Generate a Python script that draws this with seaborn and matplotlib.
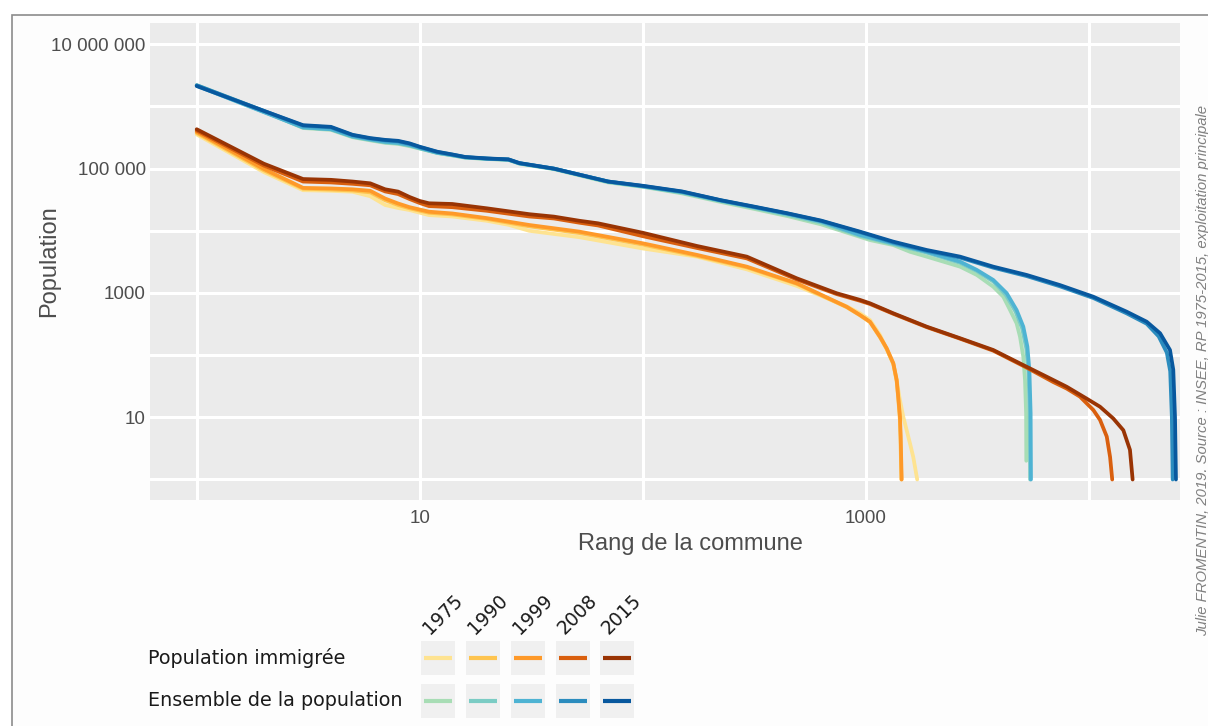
import matplotlib
matplotlib.use("Agg")
import matplotlib.pyplot as plt
import matplotlib.ticker as mticker
from matplotlib.patches import Rectangle
from matplotlib.lines import Line2D
import seaborn as sns
import pandas as pd

# Années et couleurs
annees = [1975, 1990, 1999, 2008, 2015]
couleurs_imm = ['#fee391', '#fec44f', '#fe9929', '#d95f0e', '#993404']
couleurs_ens = ['#a8ddb5', '#7bccc4', '#4eb3d3', '#2b8cbe', '#08589e']

# Ensemble de la population : (rang, population)
ens_1975 = [(1, 2.2e6), (2, 8.4e5), (3, 4.5e5), (4, 4.2e5), (5, 3.2e5), (6, 2.85e5), (7, 2.6e5),
            (8, 2.5e5), (9, 2.3e5), (10, 2.1e5), (12, 1.78e5), (14, 1.63e5), (16, 1.5e5), (20, 1.43e5),
            (25, 1.38e5), (28, 1.2e5), (40, 9.8e4), (56, 7.3e4), (70, 6.0e4), (100, 5.1e4), (150, 4.0e4),
            (225, 2.9e4), (316, 2.25e4), (447, 1.72e4), (631, 1.27e4), (942, 8.0e3), (1045, 7.1e3),
            (1330, 5.9e3), (1580, 4.6e3), (1878, 3.84e3), (2650, 2.65e3), (3150, 1.95e3), (3733, 1.26e3),
            (4140, 871), (4440, 532), (4750, 325), (4920, 198), (5090, 94), (5180, 40), (5240, 11.5),
            (5250, 2)]
ens_1990 = [(1, 2.17e6), (2, 8.2e5), (3, 4.6e5), (4, 4.3e5), (5, 3.25e5), (6, 2.9e5), (7, 2.65e5),
            (8, 2.55e5), (9, 2.35e5), (10, 2.12e5), (12, 1.79e5), (14, 1.64e5), (16, 1.51e5), (20, 1.44e5),
            (25, 1.39e5), (28, 1.21e5), (40, 9.9e4), (56, 7.4e4), (70, 6.1e4), (100, 5.15e4), (150, 4.1e4),
            (225, 3.0e4), (316, 2.35e4), (447, 1.8e4), (631, 1.36e4), (942, 8.3e3), (1330, 6.1e3),
            (1878, 4.45e3), (2650, 3.05e3), (3150, 2.25e3), (3733, 1.53e3), (4250, 930), (4700, 500),
            (5030, 270), (5250, 128), (5370, 54), (5440, 11), (5460, 1)]
ens_1999 = [(1, 2.15e6), (2, 8.1e5), (3, 4.6e5), (4, 4.3e5), (5, 3.3e5), (6, 2.95e5), (7, 2.7e5),
            (8, 2.6e5), (9, 2.4e5), (10, 2.15e5), (12, 1.8e5), (14, 1.65e5), (16, 1.52e5), (20, 1.45e5),
            (25, 1.4e5), (28, 1.22e5), (40, 1.0e5), (56, 7.5e4), (70, 6.2e4), (100, 5.2e4), (150, 4.2e4),
            (225, 3.05e4), (316, 2.4e4), (447, 1.87e4), (631, 1.42e4), (942, 8.6e3), (1330, 6.3e3),
            (1878, 4.6e3), (2650, 3.19e3), (3150, 2.35e3), (3733, 1.62e3), (4290, 990), (4750, 532),
            (5090, 287), (5310, 137), (5420, 58), (5490, 11.7), (5510, 1)]
ens_2008 = [(1, 2.2e6), (2, 8.5e5), (3, 4.9e5), (4, 4.6e5), (5, 3.45e5), (6, 3.05e5), (7, 2.85e5),
            (8, 2.75e5), (9, 2.5e5), (10, 2.22e5), (12, 1.85e5), (14, 1.68e5), (16, 1.53e5), (20, 1.45e5),
            (25, 1.4e5), (28, 1.22e5), (40, 1.0e5), (56, 7.5e4), (70, 6.2e4), (100, 5.25e4), (150, 4.25e4),
            (225, 3.08e4), (316, 2.42e4), (447, 1.89e4), (631, 1.44e4), (942, 9.5e3), (1330, 6.5e3),
            (1878, 4.75e3), (2650, 3.7e3), (3733, 2.55e3), (5270, 1.87e3), (7430, 1.28e3), (10490, 830),
            (14800, 470), (18200, 320), (20600, 200), (22400, 110), (23200, 55), (23600, 10), (23800, 1)]
ens_2015 = [(1, 2.13e6), (2, 8.5e5), (3, 5.0e5), (4, 4.7e5), (5, 3.5e5), (6, 3.1e5), (7, 2.9e5),
            (8, 2.8e5), (9, 2.55e5), (10, 2.25e5), (12, 1.87e5), (14, 1.69e5), (16, 1.54e5), (20, 1.46e5),
            (25, 1.41e5), (28, 1.23e5), (40, 1.0e5), (56, 7.5e4), (70, 6.2e4), (100, 5.3e4), (150, 4.3e4),
            (225, 3.1e4), (316, 2.45e4), (447, 1.91e4), (631, 1.46e4), (942, 9.7e3), (1330, 6.69e3),
            (1878, 4.91e3), (2650, 3.84e3), (3733, 2.65e3), (5270, 1.95e3), (7430, 1.34e3), (10490, 870),
            (14800, 500), (18200, 345), (20900, 225), (23150, 121), (23950, 58), (24380, 10), (24620, 1)]

# Population immigrée : (rang, population)
imm_1975 = [(1, 3.55e5), (2, 8.8e4), (3, 4.5e4), (4, 4.4e4), (5, 4.25e4), (6, 3.6e4), (7, 2.6e4),
            (8, 2.33e4), (9, 2.16e4), (11, 1.79e4), (14, 1.7e4), (20, 1.45e4), (25, 1.25e4), (31, 1.0e4),
            (52, 7.9e3), (100, 5.2e3), (175, 3.84e3), (293, 2.4e3), (491, 1.3e3), (822, 610), (942, 471),
            (1045, 367), (1159, 211), (1242, 125), (1330, 74), (1377, 40), (1420, 20), (1474, 10.2),
            (1580, 3.8), (1634, 2.3), (1702, 1)]
imm_1990 = [(1, 3.75e5), (2, 9.4e4), (3, 4.75e4), (4, 4.6e4), (5, 4.45e4), (6, 4.15e4), (7, 3.1e4),
            (8, 2.6e4), (9, 2.3e4), (11, 1.95e4), (14, 1.83e4), (20, 1.55e4), (31, 1.18e4), (52, 9.2e3),
            (100, 6.0e3), (175, 3.95e3), (293, 2.58e3), (491, 1.4e3), (822, 590), (942, 438), (1045, 340),
            (1159, 194), (1242, 126), (1330, 72), (1377, 38), (1400, 20), (1422, 9.5), (1432, 4.6),
            (1445, 1)]
imm_1999 = [(1, 3.9e5), (2, 9.9e4), (3, 4.9e4), (4, 4.8e4), (5, 4.65e4), (6, 4.4e4), (7, 3.3e4),
            (8, 2.75e4), (9, 2.4e4), (11, 2.03e4), (14, 1.9e4), (20, 1.6e4), (31, 1.24e4), (52, 9.7e3),
            (100, 6.3e3), (175, 4.1e3), (293, 2.65e3), (491, 1.43e3), (822, 600), (942, 443), (1045, 345),
            (1159, 198), (1242, 129), (1330, 74), (1377, 40), (1400, 21), (1425, 10.2), (1435, 4.9),
            (1450, 1)]
imm_2008 = [(1, 4.1e5), (2, 1.12e5), (3, 6.2e4), (4, 6.0e4), (5, 5.7e4), (6, 5.4e4), (7, 4.3e4),
            (8, 3.9e4), (9, 3.25e4), (10, 2.8e4), (11, 2.5e4), (14, 2.4e4), (20, 2.1e4), (31, 1.7e4),
            (40, 1.58e4), (52, 1.35e4), (63, 1.22e4), (100, 8.2e3), (175, 5.3e3), (293, 3.6e3),
            (491, 1.65e3), (741, 960), (942, 750), (1045, 665), (1330, 462), (1878, 282), (2650, 184),
            (3733, 118), (5270, 63), (6930, 37), (7970, 29), (9140, 21.5), (10490, 13.1), (11240, 9.1),
            (12050, 4.9), (12470, 2.3), (12750, 1)]
imm_2015 = [(1, 4.3e5), (2, 1.2e5), (3, 6.8e4), (4, 6.6e4), (5, 6.2e4), (6, 5.8e4), (7, 4.65e4),
            (8, 4.27e4), (9, 3.5e4), (10, 3.02e4), (11, 2.77e4), (14, 2.7e4), (20, 2.3e4), (31, 1.85e4),
            (40, 1.69e4), (52, 1.45e4), (63, 1.32e4), (100, 9.3e3), (175, 5.7e3), (293, 3.84e3),
            (491, 1.72e3), (741, 990), (942, 774), (1045, 682), (1330, 471), (1878, 287), (2650, 187),
            (3733, 121), (5270, 65), (6480, 45), (7970, 31), (9790, 20), (11240, 14.8), (12880, 9.6),
            (14300, 6.2), (15310, 3.0), (15740, 1)]

# Graduations
x_ticks = [10, 1000]
x_labels = ['10', '1000']
x_minor = [1, 100, 10000]
y_ticks = [10, 1e3, 1e5, 1e7]
y_labels = ['10', '1000', '100 000', '10 000 000']
y_minor = [1, 100, 1e4, 1e6]

lignes = [('Ensemble de la population', [ens_1975, ens_1990, ens_1999, ens_2008, ens_2015], couleurs_ens),
          ('Population immigrée', [imm_1975, imm_1990, imm_1999, imm_2008, imm_2015], couleurs_imm)]

rows = []
palette = {}
ordre = []
for nom, series, couleurs in lignes:
    for an, serie, c in zip(annees, series, couleurs):
        cle = f'{nom} {an}'
        palette[cle] = c
        ordre.append(cle)
        for r, p in serie:
            rows.append({'serie': cle, 'rang': r, 'population': p})
df = pd.DataFrame(rows)

sns.set_theme(style='darkgrid')
plt.rcParams['font.family'] = ['Liberation Sans', 'DejaVu Sans']

W, H = 1208, 726
fig = plt.figure(figsize=(W / 100, H / 100), dpi=100)
fig.patch.set_facecolor('white')

# cadre gris autour de la figure
fig.patches.append(Rectangle((12 / W, -0.1), 1.1, 1.1 - 15 / H, transform=fig.transFigure,
                             facecolor='#fdfdfd', edgecolor='#8c8c8c', linewidth=1.2, zorder=-1))

ax = fig.add_axes([150 / W, 1 - 500 / H, 1030 / W, 477 / H])
ax.set_facecolor('#ebebeb')

sns.lineplot(data=df, x='rang', y='population', hue='serie', hue_order=ordre, palette=palette,
             estimator=None, legend=False, linewidth=2.7, ax=ax)

ax.set_xscale('log')
ax.set_yscale('log')
ax.set_xlim(0.6174, 25670)
ax.set_ylim(0.468, 2.2e7)

ax.set_xticks(x_ticks, x_labels)
ax.set_yticks(y_ticks, y_labels)
ax.xaxis.set_minor_locator(mticker.FixedLocator(x_minor))
ax.yaxis.set_minor_locator(mticker.FixedLocator(y_minor))
ax.xaxis.set_minor_formatter(mticker.NullFormatter())
ax.yaxis.set_minor_formatter(mticker.NullFormatter())

ax.grid(True, which='both', color='white', linewidth=2.2)
for s in ax.spines.values():
    s.set_visible(False)

ax.tick_params(axis='x', which='major', length=3.5, width=1, color='#333333', pad=4,
               labelsize=13.5, labelcolor='#4d4d4d')
ax.tick_params(axis='y', which='major', length=0, pad=3, labelsize=13.5, labelcolor='#4d4d4d')
ax.tick_params(which='minor', length=0)

ax.set_xlabel('Rang de la commune', fontsize=17, color='#4d4d4d')
ax.set_ylabel('Population', fontsize=17, color='#4d4d4d')
ax.xaxis.set_label_coords(0.525, (500 - 550) / 477)
ax.xaxis.label.set_verticalalignment('baseline')
ax.yaxis.set_label_coords((49 - 150) / 1030, 0.5)
ax.yaxis.label.set_verticalalignment('center')

# Légende faite à la main
def fx(x):
    return x / W

def fy(y):
    return 1 - y / H

col_x = [421, 466, 511, 556, 600]
row_y = [641, 684]
box = 34
leg_font = ['DejaVu Sans']
for j, (nom, _, couleurs) in enumerate(lignes[::-1]):
    cy = row_y[j] + box / 2
    fig.text(fx(148), fy(cy), nom, ha='left', va='center', fontsize=13.8, color='#1a1a1a',
             family=leg_font)
    for i, c in enumerate(couleurs):
        fig.patches.append(Rectangle((fx(col_x[i]), fy(row_y[j] + box)), box / W, box / H,
                                     transform=fig.transFigure, facecolor='#f0f0f0',
                                     edgecolor='none'))
        fig.lines.append(Line2D([fx(col_x[i] + 3), fx(col_x[i] + box - 3)], [fy(cy), fy(cy)],
                                transform=fig.transFigure, color=c, linewidth=3,
                                solid_capstyle='butt'))

for i, an in enumerate(annees):
    fig.text(fx(col_x[i] + 22), fy(614), str(an), rotation=45, ha='center', va='center',
             fontsize=13.5, color='#1a1a1a', family=leg_font)

fig.text(fx(1203), fy(370), 'Julie FROMENTIN, 2019. Source : INSEE, RP 1975-2015, exploitation principale',
         rotation=90, ha='center', va='center', fontsize=10.7, style='italic', color='#808080')

fig.savefig('out.png', dpi=100)
